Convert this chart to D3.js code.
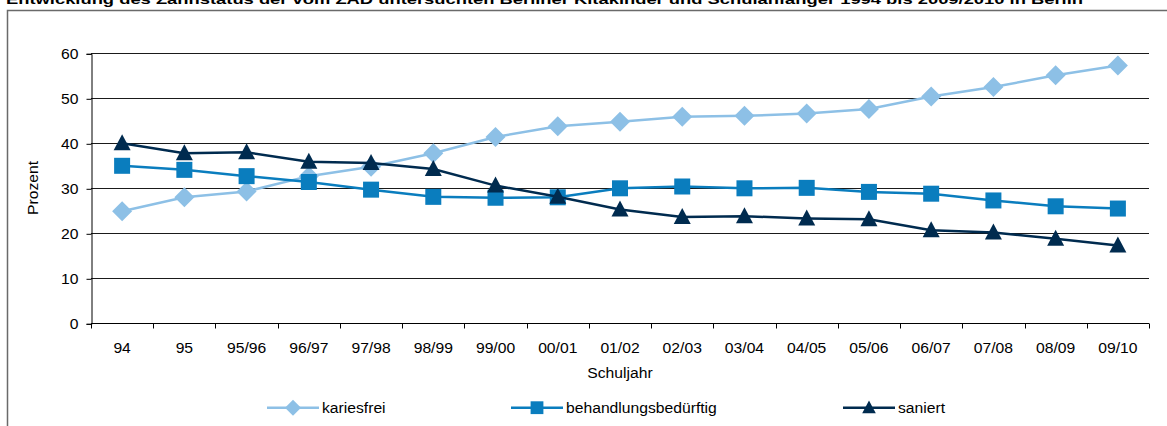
<!DOCTYPE html>
<html><head><meta charset="utf-8">
<script src="https://cdn.jsdelivr.net/npm/d3@7"></script>
<style>
html,body{margin:0;padding:0;background:#fff;}
svg{display:block;font-family:Arial,"Liberation Sans",sans-serif;}
</style></head>
<body><svg id="c" width="1167" height="426"></svg>
<script>
const categories = ["94","95","95/96","96/97","97/98","98/99","99/00","00/01","01/02","02/03","03/04","04/05","05/06","06/07","07/08","08/09","09/10"];
const kariesfrei = [24.9,28.0,29.3,32.7,34.8,37.8,41.4,43.8,44.8,45.9,46.1,46.6,47.6,50.4,52.5,55.1,57.3];
const behandlungsbeduerftig = [35.0,34.1,32.7,31.4,29.7,28.1,27.9,28.0,30.0,30.4,30.0,30.1,29.2,28.8,27.3,26.0,25.5];
const saniert = [40.0,37.8,38.0,35.9,35.6,34.3,30.6,28.1,25.3,23.6,23.8,23.3,23.1,20.7,20.2,18.8,17.3];
const yTicks = [0,10,20,30,40,50,60];
const seriesNames = ["kariesfrei","behandlungsbedürftig","saniert"];
const titleText = "Entwicklung des Zahnstatus der vom ZÄD untersuchten Berliner Kitakinder und Schulanfänger 1994 bis 2009/2010 in Berlin";

const series = [
  {name: seriesNames[0], values: kariesfrei, color: "#8DC0E6", shape: "diamond"},
  {name: seriesNames[1], values: behandlungsbeduerftig, color: "#0A7DBE", shape: "square"},
  {name: seriesNames[2], values: saniert, color: "#002B4F", shape: "triangle"}
];

const FS = 14, STRETCH = 1.12;
function stretch(sel) {
  sel.each(function () {
    const l = this.getComputedTextLength();
    d3.select(this).attr("textLength", l * STRETCH).attr("lengthAdjust", "spacingAndGlyphs");
  });
}

const svg = d3.select("#c");
const L = 91, R = 1149, T = 53.3, B = 323.3;
const x = d3.scaleBand().domain(categories).range([L, R]).padding(0);
const y = d3.scaleLinear().domain([0, 60]).range([B, T]);
const cx = c => x(c) + x.bandwidth() / 2;

// title (partially cut at top)
svg.append("text").attr("x", 6).attr("y", 4).attr("font-size", 13).attr("font-weight", "bold")
  .attr("textLength", 1077).attr("lengthAdjust", "spacingAndGlyphs").attr("fill", "#000").text(titleText);

// frame
svg.append("rect").attr("x", 7.5).attr("y", 10.5).attr("width", 1200).attr("height", 500)
  .attr("fill", "none").attr("stroke", "#6a6a6a").attr("stroke-width", 1.5);

// gridlines
svg.append("g").selectAll("line").data(yTicks.filter(d => d > 0)).join("line")
  .attr("x1", L).attr("x2", R).attr("y1", d => Math.round(y(d)) + 0.5).attr("y2", d => Math.round(y(d)) + 0.5)
  .attr("stroke", "#1a1a1a").attr("stroke-width", 1);

// y axis
const yAxis = d3.axisLeft(y).tickValues(yTicks).tickSize(5).tickPadding(8).tickFormat(d3.format("d"));
const gy = svg.append("g").attr("transform", `translate(${L + 0.5},0.5)`).call(yAxis);
gy.selectAll("path,line").attr("stroke", "#000");
gy.selectAll("text").attr("font-size", FS).attr("fill", "#000").attr("font-family", "Arial,'Liberation Sans',sans-serif").call(stretch);

// x axis
const xAxis = d3.axisBottom(x).tickSize(0).tickPadding(20);
const gx = svg.append("g").attr("transform", `translate(0,${Math.round(B) + 0.5})`).call(xAxis);
gx.select("path").attr("stroke", "#000").attr("d", `M${L},0H${R}`);
gx.selectAll("text").attr("font-size", FS).attr("fill", "#000").attr("font-family", "Arial,'Liberation Sans',sans-serif").call(stretch);
gx.append("g").selectAll("line").data(categories.map(c => x(c)).concat([R])).join("line")
  .attr("x1", d => Math.round(d) + 0.5).attr("x2", d => Math.round(d) + 0.5).attr("y1", 0).attr("y2", 5).attr("stroke", "#000");

// axis titles
svg.append("text").attr("transform", `translate(37.5,188) rotate(-90)`).attr("text-anchor", "middle")
  .attr("font-size", FS).text("Prozent").call(stretch);
svg.append("text").attr("x", (L + R) / 2).attr("y", 378.3).attr("text-anchor", "middle")
  .attr("font-size", FS).text("Schuljahr").call(stretch);

function marker(g, shape, px, py, color, k) {
  k = k || 1;
  if (shape === "diamond") {
    const r = 10 * k;
    g.append("path").attr("d", `M${px},${py - r}L${px + r},${py}L${px},${py + r}L${px - r},${py}Z`).attr("fill", color);
  } else if (shape === "square") {
    const h = 8 * k;
    g.append("rect").attr("x", px - h).attr("y", py - h).attr("width", 2 * h).attr("height", 2 * h).attr("fill", color);
  } else {
    g.append("path").attr("d", `M${px},${py - 9 * k}L${px + 8.5 * k},${py + 7 * k}L${px - 8.5 * k},${py + 7 * k}Z`).attr("fill", color);
  }
}

const line = d3.line().x((d, i) => cx(categories[i])).y(d => y(d));
series.forEach(s => {
  const g = svg.append("g");
  g.append("path").datum(s.values).attr("d", line).attr("fill", "none")
    .attr("stroke", s.color).attr("stroke-width", 2.5);
  s.values.forEach((v, i) => marker(g, s.shape, cx(categories[i]), y(v), s.color));
});

// legend
const legX = [267, 511, 843];
series.forEach((s, i) => {
  const g = svg.append("g");
  const ly = 407.7;
  g.append("line").attr("x1", legX[i]).attr("x2", legX[i] + 52).attr("y1", ly).attr("y2", ly)
    .attr("stroke", s.color).attr("stroke-width", 2.5);
  marker(g, s.shape, legX[i] + 26, ly, s.color, 0.8);
  g.append("text").attr("x", legX[i] + 55).attr("y", 412.7).attr("font-size", FS).text(s.name).call(stretch);
});
</script></body></html>
